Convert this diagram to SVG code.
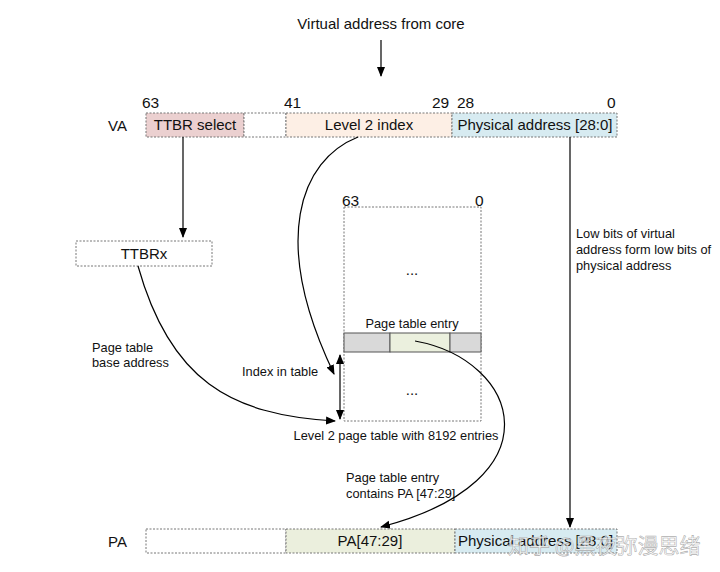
<svg xmlns="http://www.w3.org/2000/svg" width="720" height="572" viewBox="0 0 720 572">
<defs>
<marker id="ah" markerWidth="10" markerHeight="10" refX="9" refY="5" orient="auto" markerUnits="userSpaceOnUse">
<path d="M0,1 L10,5 L0,9 z" fill="#000"/>
</marker>
<marker id="ahs" markerWidth="10" markerHeight="10" refX="1" refY="5" orient="auto" markerUnits="userSpaceOnUse">
<path d="M10,1 L0,5 L10,9 z" fill="#000"/>
</marker>
<style>
text{font-family:"Liberation Sans",Arial,sans-serif;font-size:15px;fill:#111}
.num{font-size:15.5px}
.lbl{font-size:12.8px}
.wm{font-family:"Noto Sans CJK SC","Liberation Sans",sans-serif;font-size:21px;fill:#ffffff;fill-opacity:0.75;stroke:#9a9a9a;stroke-width:0.6;stroke-opacity:0.8}
.seg{stroke:#777;stroke-width:1;stroke-dasharray:2,1.5}
.conn{fill:none;stroke:#000;stroke-width:1.2}
.solid{stroke:#555;stroke-width:1}
</style>
</defs>
<rect width="720" height="572" fill="#fff"/>

<g id="title">
<text x="381" y="29" text-anchor="middle">Virtual address from core</text>
</g>

<g id="va">
<text x="108" y="131">VA</text>
<text class="num" x="142" y="108">63</text>
<text class="num" x="284" y="108">41</text>
<text class="num" x="432" y="108">29</text>
<text class="num" x="457" y="108">28</text>
<text class="num" x="607" y="108">0</text>
<rect class="seg" x="146" y="113" width="98" height="24" fill="#ebd0d0"/>
<rect class="seg" x="244" y="113" width="42" height="24" fill="#fff"/>
<rect class="seg" x="286" y="113" width="166" height="24" fill="#fdefe5"/>
<rect class="seg" x="452" y="113" width="165" height="24" fill="#d7ebf1"/>
<text x="195" y="130" text-anchor="middle">TTBR select</text>
<text x="369" y="130" text-anchor="middle">Level 2 index</text>
<text x="535" y="130" text-anchor="middle">Physical address [28:0]</text>
</g>

<g id="ttbrx">
<rect class="seg" x="76" y="241" width="136" height="25" fill="#fff"/>
<text x="144" y="259" text-anchor="middle">TTBRx</text>
</g>

<g id="table">
<text class="num" x="342" y="206">63</text>
<text class="num" x="475" y="206">0</text>
<rect class="seg" x="344" y="207" width="137" height="214" fill="#fff"/>
<text x="412" y="275" text-anchor="middle">...</text>
<text class="lbl" x="412" y="328" text-anchor="middle">Page table entry</text>
<rect class="solid" x="344" y="333" width="46" height="19" fill="#d9d9d9"/>
<rect class="solid" x="390" y="333" width="60" height="19" fill="#ebf0de"/>
<rect class="solid" x="450" y="333" width="31" height="19" fill="#d9d9d9"/>
<text x="412" y="395" text-anchor="middle">...</text>
<text class="lbl" x="396" y="440" text-anchor="middle">Level 2 page table with 8192 entries</text>
</g>

<g id="labels">
<text class="lbl" x="92" y="352">Page table</text>
<text class="lbl" x="92" y="367">base address</text>
<text class="lbl" x="242" y="376">Index in table</text>
<text class="lbl" x="346" y="482">Page table entry</text>
<text class="lbl" x="346" y="498">contains PA [47:29]</text>
<text class="lbl" x="576" y="238">Low bits of virtual</text>
<text class="lbl" x="576" y="254">address form low bits of</text>
<text class="lbl" x="576" y="270">physical address</text>
</g>

<g id="pa">
<text x="108" y="547">PA</text>
<rect class="seg" x="146" y="529" width="140" height="24" fill="#fff"/>
<rect class="seg" x="286" y="529" width="169" height="24" fill="#ebefdd"/>
<rect class="seg" x="455" y="529" width="162" height="24" fill="#d7ebf1"/>
<text x="370" y="546" text-anchor="middle">PA[47:29]</text>
<text x="458" y="546">Physical address [28:0]</text>
</g>

<g id="connectors">
<line class="conn" x1="381" y1="40" x2="381" y2="76" marker-end="url(#ah)"/>
<line class="conn" x1="183" y1="137" x2="183" y2="237" marker-end="url(#ah)"/>
<path class="conn" d="M358,137 C300,160 270,240 334,374" marker-end="url(#ah)"/>
<path class="conn" d="M138,266 C170,380 230,415 335,421" marker-end="url(#ah)"/>
<line class="conn" x1="340" y1="355" x2="340" y2="419" marker-start="url(#ahs)" marker-end="url(#ah)"/>
<path class="conn" d="M415,341 C520,360 560,480 381,527" marker-end="url(#ah)"/>
<line class="conn" x1="570" y1="137" x2="570" y2="527" marker-end="url(#ah)"/>
</g>

<g id="watermark">
<text class="wm" x="508" y="553">知乎 @黑夜弥漫思绪</text>
</g>
</svg>
